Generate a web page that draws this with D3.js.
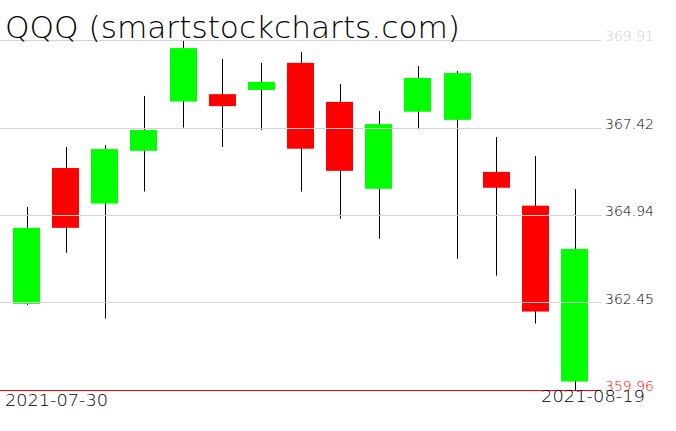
<!DOCTYPE html>
<html>
<head>
<meta charset="utf-8">
<script src="https://cdn.jsdelivr.net/npm/d3@7"></script>
<style>
  html, body { margin: 0; padding: 0; background: #fff; }
  svg { display: block; }
  text { font-family: "DejaVu Sans", sans-serif; font-weight: 200; }
</style>
</head>
<body>
<svg id="chart" width="676" height="431"></svg>
<script>
const title = "QQQ (smartstockcharts.com)";
const dates = ["2021-07-30","2021-08-02","2021-08-03","2021-08-04","2021-08-05","2021-08-06",
  "2021-08-09","2021-08-10","2021-08-11","2021-08-12","2021-08-13",
  "2021-08-16","2021-08-17","2021-08-18","2021-08-19"];
const open  = [362.41, 366.27, 365.26, 366.76, 368.16, 368.37, 368.49, 369.26, 368.15, 365.68, 367.87, 367.64, 366.16, 365.20, 360.20];
const close = [364.57, 364.57, 366.81, 367.35, 369.68, 368.03, 368.72, 366.82, 366.19, 367.52, 368.83, 368.97, 365.71, 362.19, 363.97];
const high  = [365.16, 366.87, 366.92, 368.32, 369.91, 369.37, 369.26, 369.57, 368.66, 367.89, 369.17, 369.03, 367.15, 366.61, 365.67];
const low   = [362.38, 363.86, 361.99, 365.60, 367.42, 366.87, 367.35, 365.60, 364.83, 364.26, 367.37, 363.69, 363.21, 361.85, 359.96];
const tickValues = [369.91, 367.42, 364.94, 362.45, 359.96];
const tickLabels = ["369.91", "367.42", "364.94", "362.45", "359.96"];

const svg = d3.select("#chart");
const y = d3.scaleLinear().domain([359.96, 369.91]).range([390, 40]);
const x = d3.scalePoint().domain(dates).range([26.5, 574.5]);
const bodyW = 27;

const candles = dates.map((d, i) => ({ d, o: open[i], c: close[i], h: high[i], l: low[i] }));

// wicks
svg.append("g").selectAll("line").data(candles).join("line")
  .attr("x1", d => Math.round(x(d.d)) + 0.5)
  .attr("x2", d => Math.round(x(d.d)) + 0.5)
  .attr("y1", d => y(d.h))
  .attr("y2", d => y(d.l))
  .attr("stroke", "#000").attr("stroke-width", 1);

// bodies
svg.append("g").selectAll("rect").data(candles).join("rect")
  .attr("x", d => Math.round(x(d.d) - bodyW / 2))
  .attr("width", bodyW)
  .attr("y", d => y(Math.max(d.o, d.c)))
  .attr("height", d => Math.max(1, y(Math.min(d.o, d.c)) - y(Math.max(d.o, d.c))))
  .attr("fill", d => d.c >= d.o ? "#00ff00" : "#ff0000");

// grid + right labels
const axis = d3.axisRight(y).tickValues(tickValues).tickSize(601).tickPadding(4)
  .tickFormat((d, i) => tickLabels[i]);
const ag = svg.append("g").attr("transform", "translate(0,0)").call(axis);
ag.select(".domain").remove();
ag.selectAll(".tick line")
  .attr("stroke", (d, i) => i === tickValues.length - 1 ? "#ff0000" : "#d3d3d3")
  .attr("shape-rendering", "crispEdges");
ag.selectAll(".tick text")
  .attr("dy", "0.05em")
  .attr("font-size", 14)
  .attr("font-family", "DejaVu Sans")
  .attr("fill", (d, i) => i === 0 ? "#cccccc" : (i === tickValues.length - 1 ? "#ff0000" : "#000"));

// date labels
svg.append("text").attr("x", 5).attr("y", 406).attr("font-size", 15)
  .attr("textLength", 103).attr("lengthAdjust", "spacingAndGlyphs")
  .text(dates[0]);
svg.append("text").attr("x", 645).attr("y", 401.5).attr("font-size", 15)
  .attr("text-anchor", "end")
  .attr("textLength", 104).attr("lengthAdjust", "spacingAndGlyphs")
  .text(dates[dates.length - 1]);

// title
svg.append("text").attr("x", 5).attr("y", 38).attr("font-size", 30)
  .attr("textLength", 455).attr("lengthAdjust", "spacingAndGlyphs")
  .text(title);
</script>
</body>
</html>
